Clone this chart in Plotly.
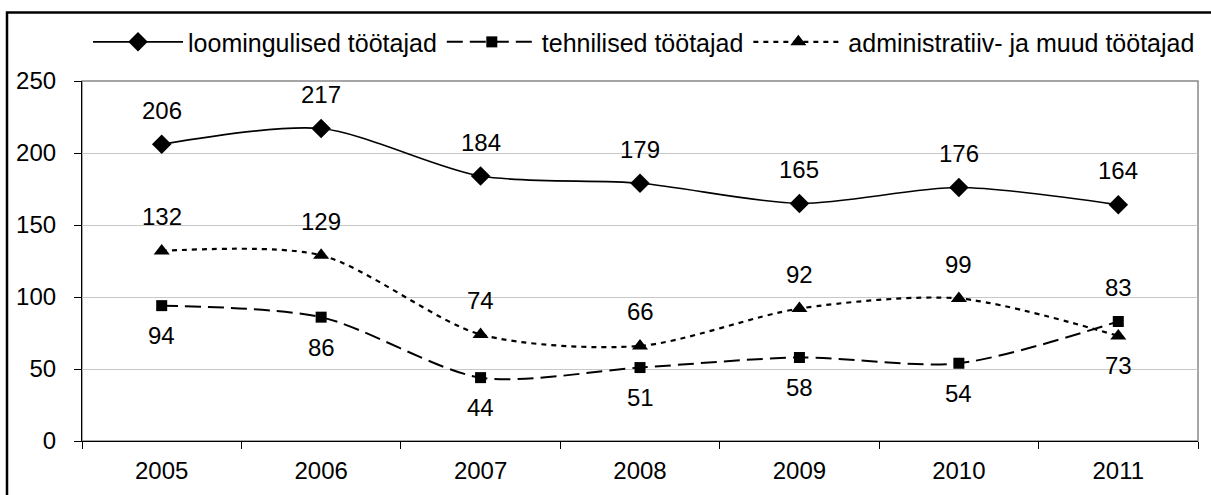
import plotly.graph_objects as go

years = ["2005", "2006", "2007", "2008", "2009", "2010", "2011"]
loomingulised = [206, 217, 184, 179, 165, 176, 164]
tehnilised = [94, 86, 44, 51, 58, 54, 83]
administratiiv = [132, 129, 74, 66, 92, 99, 73]
names = ["loomingulised töötajad", "tehnilised töötajad", "administratiiv- ja muud töötajad"]
# label placement: +1 above the point, -1 below
loom_pos = [1, 1, 1, 1, 1, 1, 1]
tehn_pos = [-1, -1, -1, -1, -1, -1, 1]
admin_pos = [1, 1, 1, 1, 1, 1, -1]

FONT = "Liberation Sans, Arial, sans-serif"
fs = 24

fig = go.Figure()
series = [
    (loomingulised, names[0], "solid", "diamond", 15, 1.6, loom_pos),
    (tehnilised, names[1], "16px,7px", "square", 11, 2, tehn_pos),
    (administratiiv, names[2], "5px,5px", "triangle-up", 14, 2.2, admin_pos),
]
annotations = []
for vals, nm, dash, sym, ms, lw, pos in series:
    fig.add_trace(go.Scatter(
        x=years, y=vals, name=nm, mode="lines+markers",
        line=dict(color="black", width=lw, dash=dash, shape="spline", smoothing=0.8),
        marker=dict(symbol=sym, size=ms, color="black"),
    ))
    for i, (yv, p) in enumerate(zip(vals, pos)):
        annotations.append(dict(
            x=i, y=yv, xref="x", yref="y", text=str(yv), showarrow=False,
            yshift=34 if p > 0 else -30,
            font=dict(family=FONT, size=fs, color="black"),
        ))

fig.update_layout(
    width=1211, height=495,
    margin=dict(l=82, r=13, t=81, b=54, autoexpand=False),
    paper_bgcolor="white", plot_bgcolor="white",
    font=dict(family=FONT, size=fs, color="black"),
    showlegend=True,
    legend=dict(orientation="h", x=0.0054, xanchor="left", y=1.108, yanchor="middle",
                font=dict(family=FONT, size=25, color="black"),
                itemwidth=90, tracegroupgap=0, bgcolor="rgba(0,0,0,0)"),
    annotations=annotations,
    shapes=[
        dict(type="rect", xref="paper", yref="paper", x0=0, x1=1, y0=0, y1=1,
             line=dict(color="#888888", width=1.5), layer="below"),
        dict(type="rect", xref="paper", yref="paper", x0=-0.0672, x1=1.1, y0=-0.3, y1=1.19,
             line=dict(color="black", width=2.5), layer="below"),
    ],
)
fig.update_xaxes(type="category", range=[-0.5, 6.5], showgrid=False, automargin=False,
                 showline=True, linecolor="black", linewidth=1.2,
                 ticks="outside", tickson="boundaries", ticklen=7, tickcolor="black",
                 ticklabelstandoff=8,
                 tickfont=dict(family=FONT, size=fs), fixedrange=True)
fig.update_yaxes(range=[0, 250], dtick=50, showgrid=True, gridcolor="#c8c8c8", gridwidth=1,
                 showline=True, linecolor="black", linewidth=1.2, automargin=False,
                 ticks="outside", ticklen=7, tickcolor="black", zeroline=False,
                 ticklabelstandoff=13,
                 tickfont=dict(family=FONT, size=fs), fixedrange=True)

fig.write_html("out.html", config={"displayModeBar": False},
               post_script="document.body.style.margin='0px';")
